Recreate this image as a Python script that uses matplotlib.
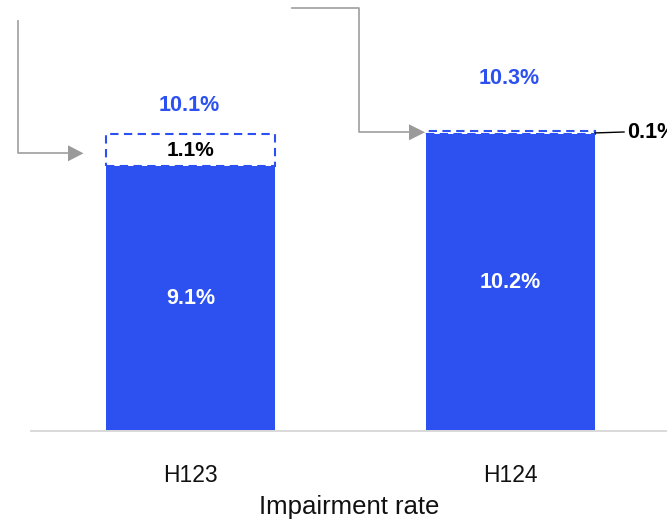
import matplotlib
matplotlib.use("Agg")
import matplotlib.pyplot as plt
from matplotlib.patches import Polygon
from matplotlib.lines import Line2D

# ---- data ----
categories = ["H123", "H124"]
base_values = [9.1, 10.2]
increment_values = [1.1, 0.1]
total_labels = ["10.1%", "10.3%"]
base_labels = ["9.1%", "10.2%"]
increment_labels = ["1.1%", "0.1%"]
xlabel = "Impairment rate"

BLUE = "#2c51f0"
GREY = "#9a9a9a"
W, H = 667, 523

plt.rcParams['font.family'] = ['Liberation Sans', 'DejaVu Sans']

fig = plt.figure(figsize=(W / 100, H / 100), dpi=100)
base_px = 430.7
ax = fig.add_axes([31 / W, (H - base_px) / H, 1 - 31 / W, base_px / H])
ax.set_xlim(-0.498, 1.488)
ax.set_ylim(0, base_px / 29.05)

x = list(range(len(categories)))
width = 0.527
ax.bar(x, base_values, width=width, color=BLUE, zorder=2)
ax.bar(x, increment_values, width=width, bottom=base_values, facecolor="white",
       edgecolor=BLUE, linewidth=1.5, linestyle=(0, (4, 2.6)), zorder=3)

for s in ["top", "right", "left"]:
    ax.spines[s].set_visible(False)
ax.spines["bottom"].set_color("#d9d9d9")
ax.spines["bottom"].set_linewidth(1.4)
ax.set_yticks([])
ax.set_xticks(x)
ax.set_xticklabels(categories, fontsize=16.5, color="#111111")
ax.tick_params(axis="x", length=0, pad=24)
ax.set_xlabel(xlabel, fontsize=18.5, color="#111111", labelpad=6)

# labels inside bars
for xi, b, lab in zip(x, base_values, base_labels):
    ax.text(xi, b / 2, lab, ha="center", va="center", color="white",
            fontsize=15.5, fontweight="bold", zorder=5)

# total labels (offsets in points above the bar top)
total_offsets = [20.5, 38.0]
for xi, b, inc, lab, off in zip(x, base_values, increment_values, total_labels, total_offsets):
    ax.annotate(lab, (xi, b + inc), xytext=(-1, off), textcoords="offset points",
                ha="center", va="center", color=BLUE, fontsize=15.5, fontweight="bold")

# increment labels
ax.text(x[0], base_values[0] + increment_values[0] / 2, increment_labels[0],
        ha="center", va="center", color="black", fontsize=15, fontweight="bold", zorder=5)
top2 = base_values[1] + increment_values[1]
ax.annotate(increment_labels[1], (x[1] + width / 2, top2 - 0.05), xytext=(23, 0),
            textcoords="offset points", ha="left", va="center", color="black",
            fontsize=15.5, fontweight="bold",
            arrowprops=dict(arrowstyle="-", color="black", lw=1.0,
                            shrinkA=0, shrinkB=0, relpos=(0, 0.55)))

# connector arrows (decoration, figure pixel coords, y from top)
def fx(px):
    return px / W

def fy(py):
    return 1 - py / H

def connector(points, tip):
    xs = [fx(p[0]) for p in points]
    ys = [fy(p[1]) for p in points]
    fig.add_artist(Line2D(xs, ys, color="#a6a6a6", lw=1.3, transform=fig.transFigure))
    tx, ty = tip
    sx = points[-1][0]
    tri = Polygon([(fx(sx), fy(ty - 8)), (fx(sx), fy(ty + 8)), (fx(tx), fy(ty))],
                  closed=True, facecolor=GREY, edgecolor="none", transform=fig.transFigure)
    fig.add_artist(tri)

connector([(18.3, 20.7), (18.3, 153.3), (68, 153.3)], (83.5, 153.3))
connector([(291.7, 8.3), (358.8, 8.3), (358.8, 132.3), (409, 132.3)], (425, 132.3))

fig.savefig("out.png", dpi=100)
